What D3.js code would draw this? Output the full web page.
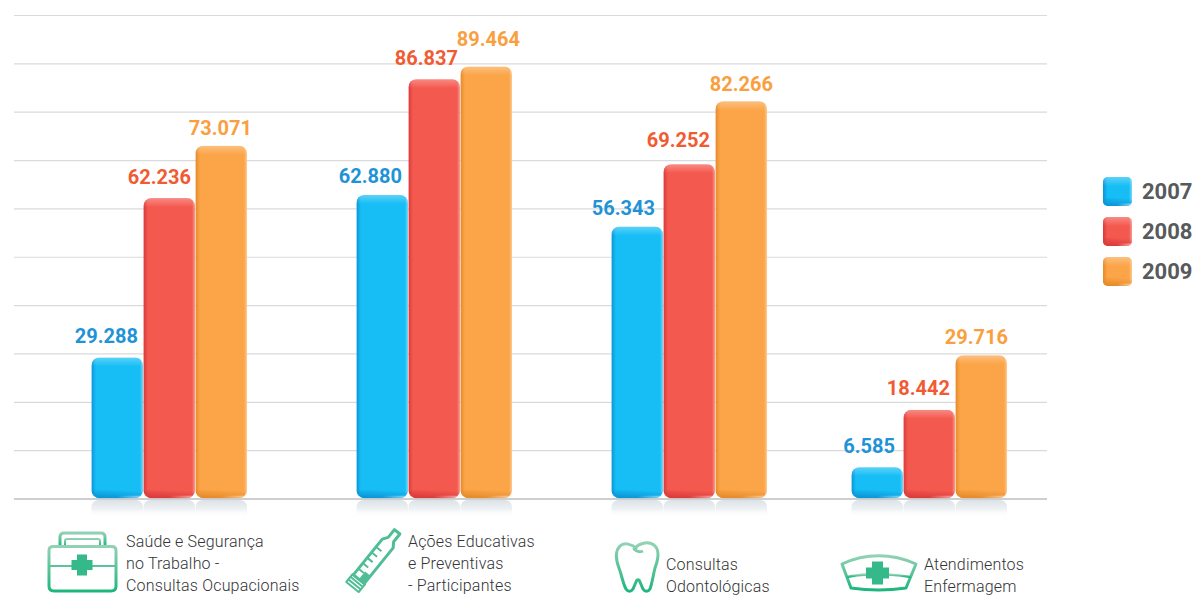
<!DOCTYPE html>
<html><head><meta charset="utf-8">
<script src="https://cdn.jsdelivr.net/npm/d3@7"></script>
<style>html,body{margin:0;background:#fff}svg{display:block}</style></head>
<body><div id="c"></div>
<script>
const categories = ["Saúde e Segurança no Trabalho - Consultas Ocupacionais","Ações Educativas e Preventivas - Participantes","Consultas Odontológicas","Atendimentos Enfermagem"];
const categoryLines = [["Saúde e Segurança","no Trabalho -","Consultas Ocupacionais"],["Ações Educativas","e Preventivas","- Participantes"],["Consultas","Odontológicas"],["Atendimentos","Enfermagem"]];
const years = ["2007","2008","2009"];
const values2007 = [29288,62880,56343,6585];
const values2008 = [62236,86837,69252,18442];
const values2009 = [73071,89464,82266,29716];
const valueLabels2007 = ["29.288","62.880","56.343","6.585"];
const valueLabels2008 = ["62.236","86.837","69.252","18.442"];
const valueLabels2009 = ["73.071","89.464","82.266","29.716"];
const gridTicks = [0,10000,20000,30000,40000,50000,60000,70000,80000,90000,100000];

// layout
const W=1195,H=596;
const groupStarts=[91.5,356.5,611.5,851.5], barW=51.5, barStep=52;
const labelLeft=[126,408,666,924];
const colors=["#17bef5","#f4594f","#fba548"], dark=["#0b94d6","#d93a3a","#e58a2a"], textCol=["#1f93d5","#f15b33","#fa9f40"];
const labelRightGap=[[5,6,8,8],[4,2,5,5],[-5,-8,-6,-1]];
const labelLift=[[14,12,12,14],[14,14,17,15],[11,20,10,11]];

const series=[values2007,values2008,values2009], seriesLabels=[valueLabels2007,valueLabels2008,valueLabels2009];
const y=d3.scaleLinear().domain([0,100000]).range([499,15.5]);
const x0=d3.scaleOrdinal().domain(categories).range(groupStarts);
const x1=d3.scaleOrdinal().domain(years).range(years.map((_,i)=>i*barStep));

const svg=d3.select("#c").append("svg").attr("width",W).attr("height",H);
const defs=svg.append("defs");
function lg(id,a,b,c,d,stops){const g=defs.append("linearGradient").attr("id",id).attr("x1",a).attr("y1",b).attr("x2",c).attr("y2",d);
 stops.forEach(s=>g.append("stop").attr("offset",s[0]).attr("stop-color",s[1]).attr("stop-opacity",s[2]));}
lg("refl",0,0,0,1,[[0,"#dae1e6",1],[0.55,"#e8ecef",0.7],[1,"#ffffff",0]]);
lg("hl",0,0,0,1,[[0,"#ffffff",0.3],[1,"#ffffff",0]]);
lg("rim",0,0,1,0,[[0,"#ffffff",0],[1,"#ffffff",0.4]]);
lg("rimB",0.5,0,1,0,[[0,"#ffffff",0],[1,"#ffffff",0.55]]);
lg("icon",0,0,0,1,[[0,"#92d1b5",1],[1,"#1fb67e",1]]);
colors.forEach((c,i)=>{
 lg("edge"+i,0,0,1,0,[[0,dark[i],1],[1,dark[i],0]]);
 lg("bot"+i,0.75,0,0.35,1,[[0,dark[i],0],[1,dark[i],1]]);
});

// grid
svg.append("g").selectAll("line").data(gridTicks).join("line")
 .attr("x1",14).attr("x2",1047).attr("y1",d=>y(d)).attr("y2",d=>y(d))
 .attr("stroke",d=>d===0?"#cdcfd1":"#d9dadb").attr("stroke-width",d=>d===0?1.8:1.2);

let clipId=0;
function glossy(parent,bx,by,bw,bh,r,i){
 const id="cl"+(clipId++);
 defs.append("clipPath").attr("id",id).append("rect").attr("x",bx).attr("y",by).attr("width",bw).attr("height",bh).attr("rx",r);
 const g=parent.append("g").attr("clip-path",`url(#${id})`);
 g.append("rect").attr("x",bx).attr("y",by).attr("width",bw).attr("height",bh).attr("fill",colors[i]);
 g.append("rect").attr("x",bx).attr("y",by).attr("width",4.5).attr("height",bh).attr("fill",`url(#edge${i})`);
 g.append("rect").attr("x",bx+bw-3).attr("y",by).attr("width",3).attr("height",bh).attr("fill","url(#rim)");
 g.append("rect").attr("x",bx).attr("y",by).attr("width",bw).attr("height",Math.min(9,bh/2)).attr("fill","url(#hl)");
 const b=Math.min(8,bh/2);
 g.append("rect").attr("x",bx).attr("y",by+bh-b).attr("width",bw).attr("height",b).attr("fill",`url(#bot${i})`);
 g.append("rect").attr("x",bx).attr("y",by+bh-2.5).attr("width",bw).attr("height",2.5).attr("fill","url(#rimB)");
}

categories.forEach((cat,c)=>{
 years.forEach((yr,i)=>{
  const bx=x0(cat)+x1(yr), top=y(series[i][c]);
  const g=svg.append("g");
  g.append("path").attr("d",`M${bx},${y(0)+18}V${y(0)+9}q0,-8 8,-8H${bx+barW-8}q8,0 8,8V${y(0)+18}Z`).attr("fill","url(#refl)");
  glossy(g,bx,top,barW,y(0)-0.8-top,8,i);
  g.append("text").attr("x",bx+barW-labelRightGap[i][c]).attr("y",top-labelLift[i][c]).attr("text-anchor","end")
   .attr("font-family","Roboto").attr("font-weight",700).attr("font-size",20)
   .attr("fill",textCol[i]).text(seriesLabels[i][c]);
 });
 const lines=categoryLines[c];
 const first=lines.length===3?547:569.5;
 svg.append("text").attr("font-family","Roboto").attr("font-weight",300).attr("font-size",16).attr("letter-spacing",0.18).attr("fill","#333436")
  .selectAll("tspan").data(lines).join("tspan").attr("x",labelLeft[c]).attr("y",(d,j)=>first+j*22).text(d=>d);
});

// legend
const legendY=d3.scalePoint().domain(years).range([177,257]);
years.forEach((yr,i)=>{
 const g=svg.append("g");
 glossy(g,1103,legendY(yr),29,29,5,i);
 g.append("text").attr("x",1142).attr("y",legendY(yr)+21.5).attr("font-family","Roboto").attr("font-weight",700)
  .attr("font-size",22).attr("fill","#58595b").text(yr);
});

// icons
const ic=svg.append("g").attr("fill","none").attr("stroke","url(#icon)").attr("stroke-width",3).attr("stroke-linejoin","round");
const solid="#35b98a";
function cross(cx,cy,a,t){ic.append("path").attr("stroke","none").attr("fill",solid)
 .attr("d",`M${cx-t},${cy-a}h${2*t}v${a-t}h${a-t}v${2*t}h${-(a-t)}v${a-t}h${-2*t}v${-(a-t)}h${-(a-t)}v${-2*t}h${a-t}Z`);}
// kit
ic.append("path").attr("d","M60,546V537q0,-4 4,-4H101q4,0 4,4V546");
ic.append("path").attr("d","M65,546V541q0,-2 2,-2H98q2,0 2,2V546").attr("stroke-width",2);
ic.append("path").attr("d","M53,546.5H112q4,0 4,4V586q0,5 -5,5H54q-5,0 -5,-5V550.5q0,-4 4,-4Z");
ic.append("path").attr("d","M49,566H116").attr("stroke","#5cc29b").attr("stroke-width",2);
cross(82,565,10.5,5);
// syringe
const sy=ic.append("g").attr("transform","translate(352.5,587) rotate(-51)").attr("stroke","#4fbd95");
sy.append("path").attr("d","M0,-8H10V8H0Z M3.3,-8V8 M6.6,-8V8").attr("stroke-width",2);
sy.append("path").attr("d","M10,-7H56L61,-3.5H71V3.5H61L56,7H10Z").attr("stroke-width",3);
sy.append("path").attr("d","M18,-6V0 M25,-6V0 M32,-6V0 M39,-6V0 M46,-6V0").attr("stroke-width",2);
sy.append("path").attr("d","M10,0H20V6H10Z").attr("fill","#4fbd95").attr("stroke","none");
// tooth
ic.append("path").attr("d","M637,549C632,544 624,542 620,546C615,551 616,560 619,568C622,576 623,584 626,589C628,592 631,592 633,589L636,582C637,579 639,579 640,582L643,589C645,592 648,592 650,589C652,584 653,576 655,568C658,560 660,551 655,546C650,541 640,542 634,549C637,552 641,552 643,551");
// cap
ic.append("path").attr("d","M842,564C865,553 892,553 916,564L906,588C888,590.5 869,590.5 851,588Z");
ic.append("path").attr("d","M847,577Q856,575 868,574.5 M887,574.5Q899,575 911,577").attr("stroke-width",2.5);
cross(877.5,573,11.5,5.5);
</script></body></html>
